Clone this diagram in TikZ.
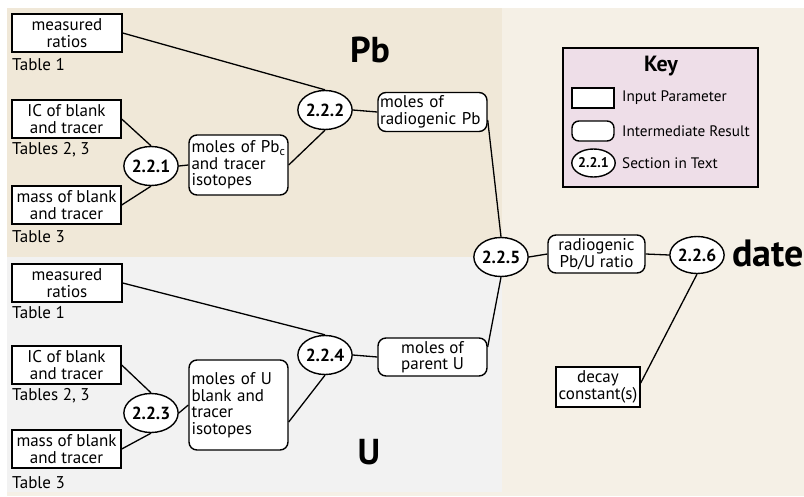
\documentclass[tikz,border=0pt]{standalone}
\usepackage{fontspec}
\setmainfont{PT Sans}
\usetikzlibrary{shapes.geometric}
\definecolor{cream}{HTML}{F5F0E6}
\definecolor{tanpb}{HTML}{F0E8D8}
\definecolor{grayu}{HTML}{F2F2F2}
\definecolor{keypink}{HTML}{EEDEE8}
\tikzset{
  txt/.style={font=\fontsize{17}{16.5}\selectfont},
  inbox/.style={txt, draw, line width=1.4pt, fill=white, rectangle, inner sep=0pt, align=center},
  resbox/.style={txt, draw, line width=1.4pt, fill=white, rectangle, rounded corners=8pt, inner sep=0pt},
  sect/.style={draw, line width=1.4pt, fill=white, ellipse, inner sep=0pt, minimum width=54pt, minimum height=39pt, font=\fontsize{17.5}{18}\selectfont\bfseries},
  tab/.style={txt, anchor=west, inner sep=0pt},
  keytxt/.style={font=\fontsize{15.2}{16}\selectfont, anchor=west, inner sep=0pt},
  conn/.style={line width=1.3pt},
  big/.style={font=\fontsize{36}{38}\selectfont\bfseries, inner sep=0pt}
}
\begin{document}
\begin{tikzpicture}[x=1pt,y=-1pt]
\useasboundingbox (0,0) rectangle (804,496);
\fill[white] (0,0) rectangle (804,496);
\fill[cream] (7,8) rectangle (804,496);
\fill[tanpb] (7,8) rectangle (502,257);
\fill[grayu] (7,257) rectangle (502,492);

% Pb section
\node[big] (pb) at (370,50) {Pb};
\node[inbox, minimum width=110pt, minimum height=38pt] (mr1) at (67,33) {measured\\ratios};
\node[tab] (t11) at (12,65) {Table 1};
\node[inbox, minimum width=109pt, minimum height=38pt] (ic1) at (66.5,119) {IC of blank\\and tracer};
\node[tab] (t12) at (12,150) {Tables 2, 3};
\node[inbox, minimum width=109pt, minimum height=38pt] (ms1) at (66.5,205) {mass of blank\\and tracer};
\node[tab] (t13) at (12,237) {Table 3};
\node[sect] (e221) at (151,166) {2.2.1};
\node[resbox, minimum width=99pt, minimum height=60pt, text width=94pt, align=left] (mp1) at (238.5,165) {moles of Pb\textsubscript{c}\\and tracer\\isotopes};
\node[sect] (e222) at (325,110) {2.2.2};
\node[resbox, minimum width=109pt, minimum height=39pt, text width=105pt, align=left] (rp) at (432.5,112) {moles of\\radiogenic Pb};

% U section
\node[big] (ul) at (369,452) {U};
\node[inbox, minimum width=110pt, minimum height=38pt] (mr2) at (67,283) {measured\\ratios};
\node[tab] (t21) at (12,313) {Table 1};
\node[inbox, minimum width=109pt, minimum height=38pt] (ic2) at (66.5,365) {IC of blank\\and tracer};
\node[tab] (t22) at (12,396) {Tables 2, 3};
\node[inbox, minimum width=109pt, minimum height=38pt] (ms2) at (66.5,449) {mass of blank\\and tracer};
\node[tab] (t23) at (12,483) {Table 3};
\node[sect] (e223) at (151,413) {2.2.3};
\node[resbox, minimum width=99pt, minimum height=90pt, text width=94pt, align=left] (mu) at (238.5,405) {moles of U\\blank and\\tracer\\isotopes};
\node[sect] (e224) at (325,355) {2.2.4};
\node[resbox, minimum width=109pt, minimum height=38pt, align=center] (pu) at (432.5,357) {moles of\\parent U};

% right part
\node[sect, minimum width=53pt, minimum height=39pt] (e225) at (501,257) {2.2.5};
\node[resbox, minimum width=97pt, minimum height=38pt, align=center] (rr) at (596.5,254) {radiogenic\\Pb/U ratio};
\node[sect, minimum width=52pt, minimum height=37pt] (e226) at (697,255) {2.2.6};
\node[big, anchor=west, font=\fontsize{38}{40}\selectfont\bfseries] (date) at (732,253) {date};
\node[inbox, minimum width=84pt, minimum height=40pt] (dc) at (598,387) {decay\\constant(s)};

% key
\node[draw, line width=1.4pt, fill=keypink, rectangle, inner sep=0pt, minimum width=195pt, minimum height=139pt] (key) at (660.5,117.5) {};
\node[font=\fontsize{22}{24}\selectfont\bfseries, inner sep=0pt] (keyt) at (661,66) {Key};
\node[draw, line width=1.4pt, fill=white, rectangle, inner sep=0pt, minimum width=42pt, minimum height=20pt] (k1) at (593,98) {};
\node[keytxt] (k1t) at (622,98) {Input Parameter};
\node[draw, line width=1.4pt, fill=white, rectangle, rounded corners=7pt, inner sep=0pt, minimum width=42pt, minimum height=20pt] (k2) at (593,131) {};
\node[keytxt] (k2t) at (622,131) {Intermediate Result};
\node[sect, minimum width=43pt, minimum height=28pt, font=\fontsize{14}{15}\selectfont\bfseries] (k3) at (593.5,163) {2.2.1};
\node[keytxt] (k3t) at (622,163) {Section in Text};

% connectors
\draw[conn] (mr1.east) -- (e222.north);
\draw[conn] (ic1.east) -- (e221.north);
\draw[conn] (ms1.east) -- (e221.south);
\draw[conn] (e221.east) -- (mp1.west);
\draw[conn] (mp1.east) -- (e222.south);
\draw[conn] (e222.east) -- (rp.west);
\draw[conn] ([yshift=-8pt]rp.east) -- (e225.north);
\draw[conn] (mr2.east) -- (e224.north);
\draw[conn] (ic2.east) -- (e223.north);
\draw[conn] (ms2.east) -- (e223.south);
\draw[conn] (e223.east) -- (mu.west);
\draw[conn] ([yshift=-17pt]mu.east) -- (e224.south);
\draw[conn] (e224.east) -- (pu.west);
\draw[conn] ([yshift=10pt]pu.east) -- (e225.south);
\draw[conn] (e225.east) -- (rr.west);
\draw[conn] (rr.east) -- (e226.west);
\draw[conn] ([yshift=4pt]dc.east) -- (e226.south);
\end{tikzpicture}
\end{document}
